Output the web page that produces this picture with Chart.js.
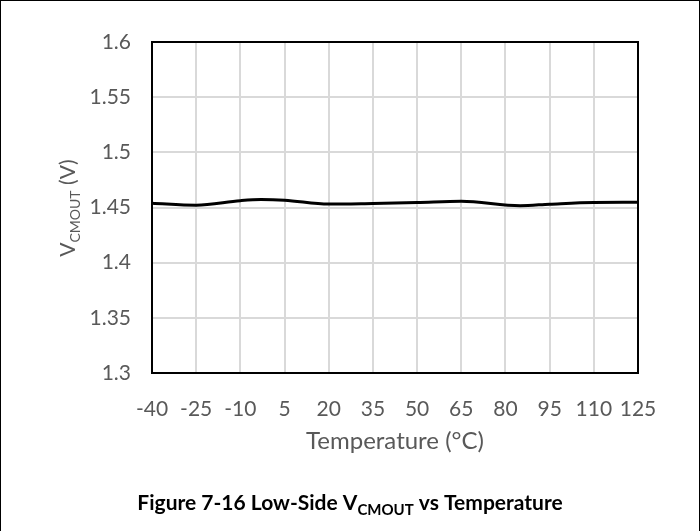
<!DOCTYPE html>
<html>
<head>
<meta charset="utf-8">
<script src="https://cdn.jsdelivr.net/npm/chart.js@4.4.0/dist/chart.umd.min.js"></script>
<style>
  html, body { margin: 0; padding: 0; background: #fff; }
  #wrap { position: relative; width: 700px; height: 531px; box-sizing: border-box; border: 1px solid #000; border-bottom: none; }
  canvas { display: block; }
</style>
</head>
<body>
<div id="wrap"><canvas id="vcm" width="698" height="530"></canvas></div>
<script>
// temperature (°C) and low-side VCMOUT (V)
const temps = [-40, -25, -10, -3, 5, 20, 35, 50, 65, 85, 95, 110, 125];
const vcmout = [1.4539, 1.4521, 1.4562, 1.4572, 1.4566, 1.4531, 1.4537, 1.4545, 1.4556, 1.4516, 1.4530, 1.4546, 1.4547];
const xTicks = [-40, -25, -10, 5, 20, 35, 50, 65, 80, 95, 110, 125];
const yTicks = [1.3, 1.35, 1.4, 1.45, 1.5, 1.55, 1.6];

const FONT = 'Lato, "Open Sans", sans-serif';
const GREY = '#595959';

const points = temps.map((t, i) => ({ x: t, y: vcmout[i] }));

// frame + titles with subscripts
const extras = {
  id: 'extras',
  afterDraw(chart) {
    const c = chart.ctx;
    const a = chart.chartArea;
    c.save();
    c.strokeStyle = '#000';
    c.lineWidth = 2;
    c.strokeRect(a.left, a.top, a.right - a.left, a.bottom - a.top);

    // x title
    c.fillStyle = GREY;
    c.font = '24px ' + FONT;
    c.textAlign = 'center';
    c.textBaseline = 'middle';
    c.fillText('Temperature (°C)', (a.left + a.right) / 2, 440);

    // y title, rotated
    c.translate(67, 207);
    c.rotate(-Math.PI / 2);
    drawSub(c, 'V', 'CMOUT', ' (V)', 21, 14, '', GREY);
    c.restore();

    // caption
    c.save();
    c.translate(349, 502);
    drawSub(c, 'Figure 7-16 Low-Side V', 'CMOUT', ' vs Temperature', 21, 15, 'bold ', '#000');
    c.restore();
  }
};

function drawSub(c, a, sub, b, big, small, weight, color) {
  c.fillStyle = color;
  c.textBaseline = 'alphabetic';
  c.textAlign = 'left';
  c.font = weight + big + 'px ' + FONT;
  const wa = c.measureText(a).width;
  const wb = c.measureText(b).width;
  c.font = weight + small + 'px ' + FONT;
  const ws = c.measureText(sub).width;
  let x = -(wa + ws + wb) / 2;
  const base = big * 0.35;
  c.font = weight + big + 'px ' + FONT;
  c.fillText(a, x, base);
  x += wa;
  c.font = weight + small + 'px ' + FONT;
  c.fillText(sub, x, base + big * 0.2);
  x += ws;
  c.font = weight + big + 'px ' + FONT;
  c.fillText(b, x, base);
}

new Chart(document.getElementById('vcm').getContext('2d'), {
  type: 'line',
  data: {
    datasets: [{
      data: points,
      borderColor: '#000',
      borderWidth: 3,
      pointRadius: 0,
      fill: false,
      cubicInterpolationMode: 'monotone'
    }]
  },
  options: {
    responsive: false,
    animation: false,
    layout: { padding: { top: 41, right: 61, bottom: 0, left: 0 } },
    plugins: { legend: { display: false }, tooltip: { enabled: false } },
    scales: {
      x: {
        type: 'linear',
        min: -40, max: 125,
        afterBuildTicks: s => { s.ticks = xTicks.map(v => ({ value: v })); },
        afterFit: s => { s.height = 158; },
        grid: { color: '#d9d9d9', lineWidth: 2, drawTicks: false },
        border: { display: false },
        ticks: { color: GREY, font: { family: FONT, size: 21 }, padding: 24, maxRotation: 0, autoSkip: false }
      },
      y: {
        min: 1.3, max: 1.6,
        afterBuildTicks: s => { s.ticks = yTicks.map(v => ({ value: v })); },
        afterFit: s => { s.width = 151; },
        grid: { color: '#d9d9d9', lineWidth: 2, drawTicks: false },
        border: { display: false },
        ticks: { color: GREY, font: { family: FONT, size: 21 }, padding: 21, callback: v => String(+v.toFixed(2)) }
      }
    }
  },
  plugins: [extras]
});
</script>
</body>
</html>
